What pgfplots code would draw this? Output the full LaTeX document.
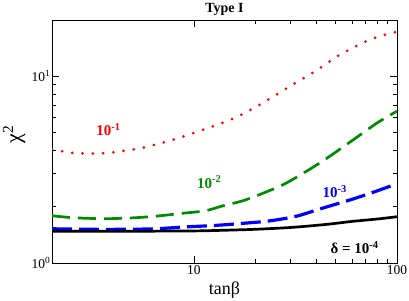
\documentclass[border=0pt]{standalone}
\usepackage{pgfplots}
\pgfplotsset{compat=1.18}
\usepackage{fontspec}
\setmainfont{Liberation Serif}
\definecolor{cred}{RGB}{255,0,0}
\definecolor{cgreen}{RGB}{0,140,0}
\definecolor{cblue}{RGB}{0,0,255}
\begin{document}
\begin{tikzpicture}
\useasboundingbox (-52pt,-37pt) rectangle (357pt,263pt);
\begin{axis}[
  scale only axis,
  width=345pt, height=243pt,
  xmode=log, ymode=log,
  xmin=2, xmax=100, ymin=1, ymax=20,
  xtick={10,100}, xticklabels={10,100},
  ytick={1,10}, yticklabels={10\textsuperscript{0},10\textsuperscript{1}},
  /pgf/number format/assume math mode=true,
  tick align=inside,
  major tick length=7pt, minor tick length=4pt,
  every tick/.style={black, line width=0.8pt},
  axis line style={black, line width=0.9pt},
  tick label style={font=\fontsize{13.5}{15}\selectfont},
  yticklabel style={inner sep=1.5pt},
  xticklabel style={inner sep=2pt},
  xlabel={tanβ},
  ylabel={χ\textsuperscript{2}},
  xlabel style={font=\fontsize{18}{20}\selectfont, at={(axis description cs:0.5,-0.11)}, anchor=center},
  ylabel style={font=\fontsize{22}{24}\selectfont, at={(axis description cs:-0.11,0.53)}, anchor=center},
  title={\textbf{Type I}},
  title style={font=\fontsize{14}{16}\selectfont, at={(axis description cs:0.5,1)}, anchor=center, yshift=5pt},
  clip=true,
]
% red dotted, delta = 1e-1
\addplot[cred, line width=3pt, line cap=round, dash pattern=on 0pt off 10.3pt, smooth] coordinates {
 (2,4.07) (2.5,3.89) (3.17,3.86) (3.58,3.87) (4.54,3.99) (5.77,4.17) (8.05,4.60) (11.3,5.21)
 (15.8,5.96) (21.7,7.17) (29.2,8.73) (39.3,10.6) (52.8,13.1) (72.6,15.6) (91.2,16.9) (100,17.3)
};
% green dashed, delta = 1e-2
\addplot[cgreen, line width=2.7pt, dash pattern=on 18pt off 8pt, smooth] coordinates {
 (2,1.79) (2.5,1.75) (3.0,1.735) (3.66,1.726) (5,1.745) (6.46,1.78) (8.75,1.845) (11.4,1.905)
 (13.8,2.02) (17.3,2.15) (21.8,2.36) (28.5,2.68) (41.6,3.43) (60.6,4.55) (79.6,5.61) (100,6.5)
};
% blue dashed, delta = 1e-3
\addplot[cblue, line width=3.2pt, dash pattern=on 20pt off 7pt, smooth] coordinates {
 (2,1.525) (3,1.515) (4.5,1.515) (6.46,1.525) (9.1,1.56) (12.8,1.59) (17.3,1.63) (23.5,1.68)
 (31.9,1.78) (41.6,1.945) (60.6,2.20) (79.6,2.43) (100,2.66)
};
% black solid, delta = 1e-4
\addplot[black, line width=2.7pt, smooth] coordinates {
 (2,1.48) (5,1.48) (10,1.485) (15,1.50) (20,1.515) (30,1.55) (45,1.61) (60,1.67) (80,1.72) (100,1.77)
};
\node[cred, font=\fontsize{15}{17}\selectfont\bfseries] at (axis cs:3.8,5.2) {10\textsuperscript{-1}};
\node[cgreen, font=\fontsize{15}{17}\selectfont\bfseries] at (axis cs:11.9,2.71) {10\textsuperscript{-2}};
\node[cblue, font=\fontsize{15}{17}\selectfont\bfseries] at (axis cs:49.3,2.41) {10\textsuperscript{-3}};
\node[black, font=\fontsize{15}{17}\selectfont\bfseries] at (axis cs:61.9,1.21) {δ = 10\textsuperscript{-4}};
\end{axis}
\end{tikzpicture}
\end{document}
